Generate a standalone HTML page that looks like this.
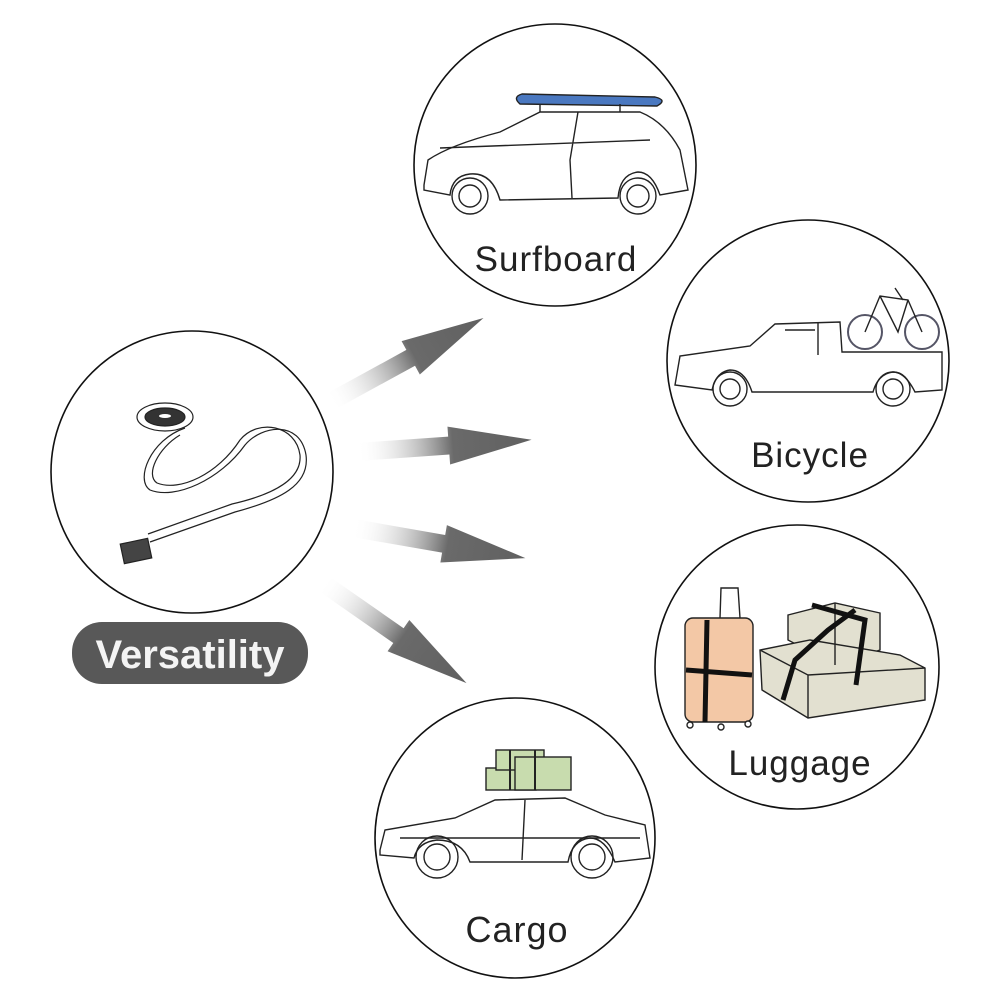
<!DOCTYPE html>
<html><head><meta charset="utf-8"><style>
html,body{margin:0;padding:0;background:#fff;}
svg{display:block;}
text{font-family:"Liberation Sans",sans-serif;}
</style></head><body>
<svg width="1001" height="1001" viewBox="0 0 1001 1001" xmlns="http://www.w3.org/2000/svg">
<defs>
<linearGradient id="ag" x1="0" y1="0" x2="1" y2="0">
<stop offset="0" stop-color="#fff" stop-opacity="0"/>
<stop offset="0.55" stop-color="#6a6a6a"/>
<stop offset="1" stop-color="#606060"/>
</linearGradient>
<g id="arr"><polygon points="0,-9 92,-9 92,-19 175,0 92,19 92,9 0,9" fill="url(#ag)"/></g>
</defs>
<rect width="1001" height="1001" fill="#fff"/>

<!-- circles -->
<g fill="none" stroke="#111" stroke-width="1.6">
<circle cx="192" cy="472" r="141"/>
<circle cx="555" cy="165" r="141"/>
<circle cx="808" cy="361" r="141"/>
<circle cx="797" cy="667" r="142"/>
<circle cx="515" cy="838" r="140"/>
</g>

<!-- arrows -->
<use href="#arr" transform="translate(330,402) rotate(-28.7)"/>
<use href="#arr" transform="translate(357,452) rotate(-4)"/>
<use href="#arr" transform="translate(353,528) rotate(9.9)"/>
<use href="#arr" transform="translate(323,583) rotate(34.9)"/>

<!-- strap -->
<g fill="none" stroke="#222" stroke-width="1.2">
<ellipse cx="165" cy="417" rx="28" ry="14"/>
<ellipse cx="165" cy="417" rx="20" ry="9" fill="#333"/>
<ellipse cx="165" cy="416" rx="6" ry="2" fill="#fff" stroke="none"/>
<path d="M185,428 C150,440 135,480 150,490 C175,500 220,480 245,445 C262,425 300,420 306,455 C310,485 280,500 235,512 L150,542"/>
<path d="M180,435 C158,448 145,475 157,483 C180,492 218,474 240,440 C258,418 296,425 300,455 C302,478 276,494 232,504 L148,534"/>
<rect x="122" y="541" width="28" height="20" fill="#444" transform="rotate(-12 136 551)"/>
</g>

<!-- Versatility pill -->
<rect x="72" y="622" width="236" height="62" rx="30" fill="#585858"/>
<text x="190" y="668" text-anchor="middle" font-size="40" font-weight="bold" fill="#f4f4f4">Versatility</text>

<!-- Surfboard car -->
<g fill="none" stroke="#222" stroke-width="1.4">
<path d="M522,94 L655,97 Q668,100 657,106 L520,104 Q512,97 522,94Z" fill="#4a78c0"/>
<path d="M540,104 L540,112 M620,104 L620,112"/>
<path d="M424,185 L428,160 Q450,145 500,132 L540,112 L640,112 Q665,122 680,150 L688,190 L660,195 Q652,172 638,172 Q620,174 618,198 L500,200 Q492,172 470,174 Q452,176 450,195 L424,190 Z"/>
<circle cx="470" cy="196" r="18"/><circle cx="638" cy="196" r="18"/>
<circle cx="470" cy="196" r="11"/><circle cx="638" cy="196" r="11"/>
<path d="M578,112 L570,160 L572,198 M440,148 L650,140"/>
</g>
<text x="556" y="271" text-anchor="middle" font-size="35" letter-spacing="1" fill="#222">Surfboard</text>

<!-- Truck with bicycle -->
<g fill="none" stroke="#222" stroke-width="1.4">
<path d="M675,385 L680,356 L750,346 L775,324 L840,322 L842,352 L942,352 L942,390 L915,392 Q905,372 893,372 Q878,374 873,392 L752,392 Q745,370 730,370 Q716,372 712,390 Z"/>
<circle cx="730" cy="389" r="17"/><circle cx="893" cy="389" r="17"/>
<circle cx="730" cy="389" r="10"/><circle cx="893" cy="389" r="10"/>
<path d="M818,322 L818,355 M785,330 L815,330"/>
<g stroke="#556" stroke-width="2"><circle cx="865" cy="332" r="17"/><circle cx="922" cy="332" r="17"/></g>
<path d="M865,332 L880,296 L908,300 L922,332 M880,296 L898,332 L908,300 M895,288 L903,300"/>
</g>
<text x="810" y="467" text-anchor="middle" font-size="35" letter-spacing="1" fill="#222">Bicycle</text>

<!-- Luggage -->
<g stroke="#222" stroke-width="1.4">
<path d="M720,618 L721,588 L738,588 L740,618" fill="none"/>
<rect x="685" y="618" width="68" height="104" rx="8" fill="#f3c8a6"/>
<circle cx="690" cy="725" r="3" fill="#fff"/><circle cx="721" cy="727" r="3" fill="#fff"/><circle cx="748" cy="724" r="3" fill="#fff"/>
<polygon points="788,615 835,603 880,613 880,650 835,665 788,640" fill="#e2e0d0"/>
<polygon points="760,650 810,640 900,655 925,668 925,700 808,718 762,690" fill="#e2e0d0"/>
<path d="M808,718 L808,675 L760,650 M808,675 L925,668 M835,665 L835,603" fill="none"/>
<path d="M707,620 L705,722 M686,670 L752,675 M783,700 L795,660 L828,630 L855,610 M812,605 L865,620 L856,685" stroke="#111" stroke-width="5" fill="none"/>
</g>
<text x="800" y="775" text-anchor="middle" font-size="35" letter-spacing="1" fill="#222">Luggage</text>

<!-- Cargo car -->
<g stroke="#222" stroke-width="1.4">
<rect x="486" y="768" width="50" height="22" fill="#c8dcae"/>
<rect x="496" y="750" width="48" height="20" fill="#c8dcae"/>
<rect x="515" y="757" width="56" height="33" fill="#c8dcae"/>
<path d="M510,750 L510,790 M535,750 L535,790" fill="none" stroke-width="2"/>
<path d="M380,850 L385,830 L455,818 L495,800 L565,798 L605,815 L645,825 L650,858 L615,862 Q605,838 590,838 Q572,840 568,862 L470,862 Q462,840 437,840 Q418,842 414,858 L380,855 Z" fill="none"/>
<circle cx="437" cy="857" r="21" fill="none"/><circle cx="592" cy="857" r="21" fill="none"/>
<circle cx="437" cy="857" r="13" fill="none"/><circle cx="592" cy="857" r="13" fill="none"/>
<path d="M525,800 L522,860 M400,838 L640,838" fill="none"/>
</g>
<text x="517" y="942" text-anchor="middle" font-size="36" letter-spacing="1" fill="#222">Cargo</text>
</svg>
</body></html>
